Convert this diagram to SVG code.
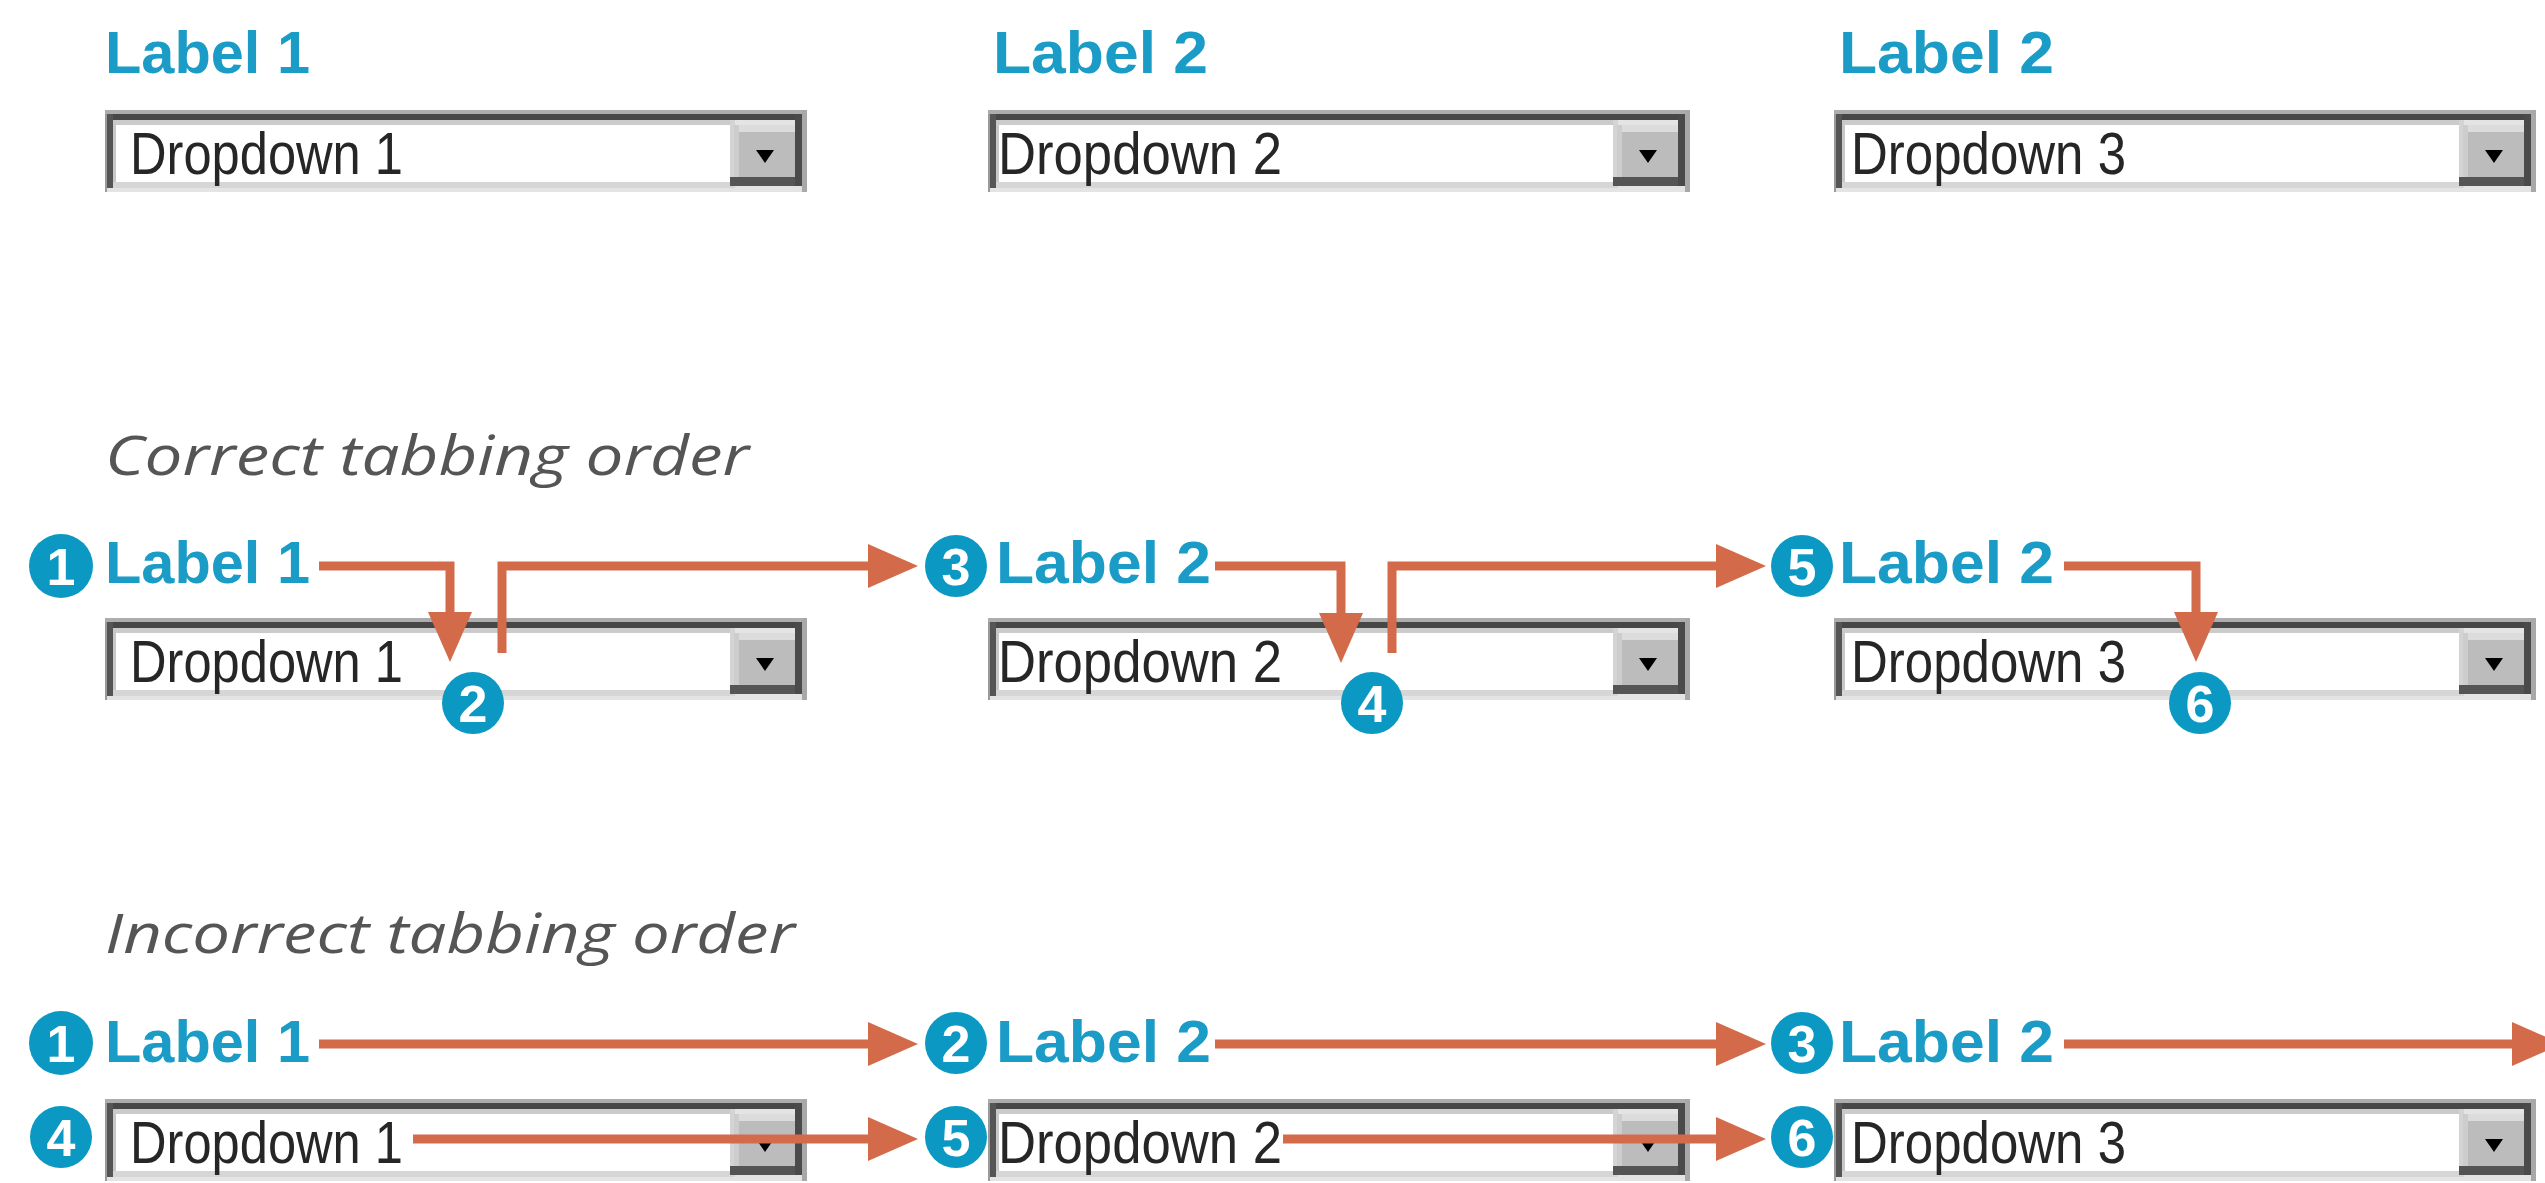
<svg xmlns="http://www.w3.org/2000/svg" xmlns:xlink="http://www.w3.org/1999/xlink" width="2545" height="1183" viewBox="0 0 2545 1183">
<defs>
<style>
.lbl{font-family:"Liberation Sans",Arial,sans-serif;font-weight:bold;font-size:60px;fill:#1a9cc6}
.ddt{font-family:"Liberation Sans",Arial,sans-serif;font-size:60px;fill:#262626}
.ttl{font-family:"Open Sans","Liberation Sans",sans-serif;font-style:italic;font-weight:400;font-size:54px;fill:#555}
.num{font-family:"Liberation Sans",Arial,sans-serif;font-weight:bold;font-size:52px;fill:#fff;text-anchor:middle}
.bdg{fill:#0b98c2}
.con{fill:none;stroke:#d36b4b;stroke-width:9;stroke-linejoin:miter}
</style>
<marker id="ah" markerUnits="userSpaceOnUse" markerWidth="52" markerHeight="46" refX="0" refY="23" orient="auto">
<path d="M0,1 L50,23 L0,45 Z" fill="#d36b4b"/>
</marker>
<g id="dd">
<rect x="0" y="0" width="702" height="82" fill="#e4e4e4"/>
<rect x="0" y="0" width="702" height="4" fill="#adadad"/>
<rect x="0" y="4" width="697" height="6" fill="#474747"/>
<rect x="0" y="4" width="2" height="78" fill="#9a9a9a"/>
<rect x="2" y="4" width="6" height="74" fill="#555"/>
<rect x="8" y="10" width="622" height="5" fill="#cbcbcb"/>
<rect x="8" y="10" width="3" height="68" fill="#c8c8c8"/>
<rect x="11" y="15" width="614" height="57" fill="#fff"/>
<rect x="8" y="72" width="622" height="6" fill="#d6d6d6"/>
<rect x="625" y="10" width="5" height="62" fill="#d4d4d4"/>
<rect x="629" y="15" width="61" height="52" fill="#bcbcbc"/>
<rect x="629" y="15" width="61" height="7" fill="#dcdcdc"/>
<rect x="629" y="15" width="5" height="52" fill="#cdcdcd"/>
<rect x="625" y="67" width="72" height="9" fill="#555"/>
<rect x="690" y="4" width="7" height="72" fill="#4a4a4a"/>
<rect x="697" y="0" width="5" height="82" fill="#a8a8a8"/>
<path d="M651,40 H669 L660,53 Z" fill="#000"/>
</g>
</defs>
<rect width="2545" height="1183" fill="#fff"/>

<!-- Row 1 -->
<g id="label-1-top"><text class="lbl" x="105" y="73" textLength="205" lengthAdjust="spacingAndGlyphs">Label 1</text></g>
<g id="label-2-top"><text class="lbl" x="993" y="73" textLength="215" lengthAdjust="spacingAndGlyphs">Label 2</text></g>
<g id="label-3-top"><text class="lbl" x="1839" y="73" textLength="215" lengthAdjust="spacingAndGlyphs">Label 2</text></g>
<g id="dropdown-1-top"><use xlink:href="#dd" x="105" y="110"/><text class="ddt" x="130" y="174" textLength="273" lengthAdjust="spacingAndGlyphs">Dropdown 1</text></g>
<g id="dropdown-2-top"><use xlink:href="#dd" x="988" y="110"/><text class="ddt" x="998" y="174" textLength="284" lengthAdjust="spacingAndGlyphs">Dropdown 2</text></g>
<g id="dropdown-3-top"><use xlink:href="#dd" x="1834" y="110"/><text class="ddt" x="1851" y="174" textLength="275" lengthAdjust="spacingAndGlyphs">Dropdown 3</text></g>

<!-- Correct -->
<g id="title-correct"><text class="ttl" x="105" y="475" textLength="644" lengthAdjust="spacingAndGlyphs">Correct tabbing order</text></g>
<g id="label-1-correct"><text class="lbl" x="105" y="583" textLength="205" lengthAdjust="spacingAndGlyphs">Label 1</text></g>
<g id="label-2-correct"><text class="lbl" x="996" y="583" textLength="215" lengthAdjust="spacingAndGlyphs">Label 2</text></g>
<g id="label-3-correct"><text class="lbl" x="1839" y="583" textLength="215" lengthAdjust="spacingAndGlyphs">Label 2</text></g>
<g id="dropdown-1-correct"><use xlink:href="#dd" x="105" y="618"/><text class="ddt" x="130" y="682" textLength="273" lengthAdjust="spacingAndGlyphs">Dropdown 1</text></g>
<g id="dropdown-2-correct"><use xlink:href="#dd" x="988" y="618"/><text class="ddt" x="998" y="682" textLength="284" lengthAdjust="spacingAndGlyphs">Dropdown 2</text></g>
<g id="dropdown-3-correct"><use xlink:href="#dd" x="1834" y="618"/><text class="ddt" x="1851" y="682" textLength="275" lengthAdjust="spacingAndGlyphs">Dropdown 3</text></g>

<!-- Incorrect -->
<g id="title-incorrect"><text class="ttl" x="105" y="953" textLength="690" lengthAdjust="spacingAndGlyphs">Incorrect tabbing order</text></g>
<g id="label-1-incorrect"><text class="lbl" x="105" y="1062" textLength="205" lengthAdjust="spacingAndGlyphs">Label 1</text></g>
<g id="label-2-incorrect"><text class="lbl" x="996" y="1062" textLength="215" lengthAdjust="spacingAndGlyphs">Label 2</text></g>
<g id="label-3-incorrect"><text class="lbl" x="1839" y="1062" textLength="215" lengthAdjust="spacingAndGlyphs">Label 2</text></g>
<g id="dropdown-1-incorrect"><use xlink:href="#dd" x="105" y="1099"/><text class="ddt" x="130" y="1163" textLength="273" lengthAdjust="spacingAndGlyphs">Dropdown 1</text></g>
<g id="dropdown-2-incorrect"><use xlink:href="#dd" x="988" y="1099"/><text class="ddt" x="998" y="1163" textLength="284" lengthAdjust="spacingAndGlyphs">Dropdown 2</text></g>
<g id="dropdown-3-incorrect"><use xlink:href="#dd" x="1834" y="1099"/><text class="ddt" x="1851" y="1163" textLength="275" lengthAdjust="spacingAndGlyphs">Dropdown 3</text></g>

<!-- Connectors -->
<g id="connectors">
<path class="con" marker-end="url(#ah)" d="M319,566 H450 V612"/>
<path class="con" marker-end="url(#ah)" d="M502,653 V566 H868"/>
<path class="con" marker-end="url(#ah)" d="M1215,566 H1341 V613"/>
<path class="con" marker-end="url(#ah)" d="M1392,653 V566 H1716"/>
<path class="con" marker-end="url(#ah)" d="M2064,566 H2196 V612"/>
<path class="con" marker-end="url(#ah)" d="M319,1044 H868"/>
<path class="con" marker-end="url(#ah)" d="M1215,1044 H1716"/>
<path class="con" marker-end="url(#ah)" d="M2064,1044 H2512"/>
<path class="con" marker-end="url(#ah)" d="M413,1139 H868"/>
<path class="con" marker-end="url(#ah)" d="M1283,1139 H1716"/>
</g>

<!-- Badges -->
<g id="badge-c1"><circle class="bdg" cx="61" cy="566" r="32"/><text class="num" x="61" y="585">1</text></g>
<g id="badge-c2"><circle class="bdg" cx="473" cy="703" r="31"/><text class="num" x="473" y="722">2</text></g>
<g id="badge-c3"><circle class="bdg" cx="956" cy="566" r="31"/><text class="num" x="956" y="585">3</text></g>
<g id="badge-c4"><circle class="bdg" cx="1372" cy="703" r="31"/><text class="num" x="1372" y="722">4</text></g>
<g id="badge-c5"><circle class="bdg" cx="1802" cy="566" r="31"/><text class="num" x="1802" y="585">5</text></g>
<g id="badge-c6"><circle class="bdg" cx="2200" cy="703" r="31"/><text class="num" x="2200" y="722">6</text></g>
<g id="badge-i1"><circle class="bdg" cx="61" cy="1043" r="32"/><text class="num" x="61" y="1062">1</text></g>
<g id="badge-i2"><circle class="bdg" cx="956" cy="1043" r="31"/><text class="num" x="956" y="1062">2</text></g>
<g id="badge-i3"><circle class="bdg" cx="1802" cy="1043" r="31"/><text class="num" x="1802" y="1062">3</text></g>
<g id="badge-i4"><circle class="bdg" cx="61" cy="1137" r="31"/><text class="num" x="61" y="1156">4</text></g>
<g id="badge-i5"><circle class="bdg" cx="956" cy="1137" r="31"/><text class="num" x="956" y="1156">5</text></g>
<g id="badge-i6"><circle class="bdg" cx="1802" cy="1137" r="31"/><text class="num" x="1802" y="1156">6</text></g>
</svg>
